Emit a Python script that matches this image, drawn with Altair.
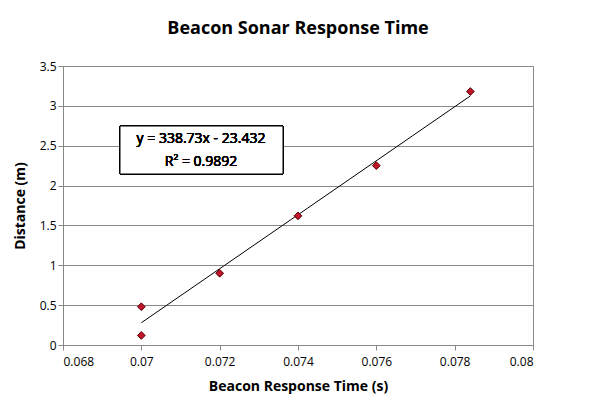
import altair as alt
import pandas as pd

response_time = [0.070, 0.070, 0.072, 0.074, 0.076, 0.0784]
distance = [0.48, 0.12, 0.90, 1.62, 2.25, 3.18]
trend_x = [0.070, 0.0784]
slope, intercept = 338.73, -23.432

pts = pd.DataFrame({"t": response_time, "d": distance})
trend = pd.DataFrame({"t": trend_x, "d": [slope * x + intercept for x in trend_x]})

font = "Open Sans"
xs = alt.Scale(domain=[0.068, 0.08], nice=False)
ys = alt.Scale(domain=[0, 3.5], nice=False)
xax = alt.Axis(values=[0.068, 0.07, 0.072, 0.074, 0.076, 0.078, 0.08], format="~g", grid=False,
               title="Beacon Response Time (s)", titleFontSize=14, labelFontSize=12,
               titlePadding=12, labelPadding=6)
yax = alt.Axis(values=[0, 0.5, 1, 1.5, 2, 2.5, 3, 3.5], format="~g", grid=True, gridColor="#888",
               title="Distance (m)", titleFontSize=14, labelFontSize=12, titlePadding=12,
               labelOverlap=False)

line = alt.Chart(trend).mark_line(color="black", strokeWidth=1).encode(
    x=alt.X("t:Q", scale=xs, axis=xax), y=alt.Y("d:Q", scale=ys, axis=yax))
points = alt.Chart(pts).mark_point(shape="diamond", filled=True, size=60, color="#c0152a",
                                   stroke="#5a0000", strokeWidth=1, opacity=1).encode(
    x=alt.X("t:Q", scale=xs, axis=xax), y=alt.Y("d:Q", scale=ys, axis=yax))

box = alt.Chart(pts).mark_rect(fill="white", stroke="black", strokeWidth=1).encode(
    x=alt.value(57), x2=alt.value(220), y=alt.value(60), y2=alt.value(108))
eq = alt.Chart(pts).mark_text(fontSize=14, font=font, fontWeight="normal").encode(
    x=alt.value(138), y=alt.value(73), text=alt.value("y = 338.73x - 23.432"))
r2 = alt.Chart(pts).mark_text(fontSize=14, font=font, fontWeight="normal").encode(
    x=alt.value(138), y=alt.value(96), text=alt.value("R² = 0.9892"))

chart = (line + points + box + eq + r2).properties(
    width=470, height=279,
    title=alt.TitleParams("Beacon Sonar Response Time", fontSize=18, font=font, fontWeight="bold", offset=22),
).configure(font=font, padding={"left": 5, "top": 12, "right": 5, "bottom": 5}).configure_axis(
    titleFont=font, labelFont=font, domainColor="#888", tickColor="#888", labelColor="black",
    titleColor="black").configure_view(stroke="#888")

chart.save("out.html", embed_options={"renderer": "svg", "actions": False})
